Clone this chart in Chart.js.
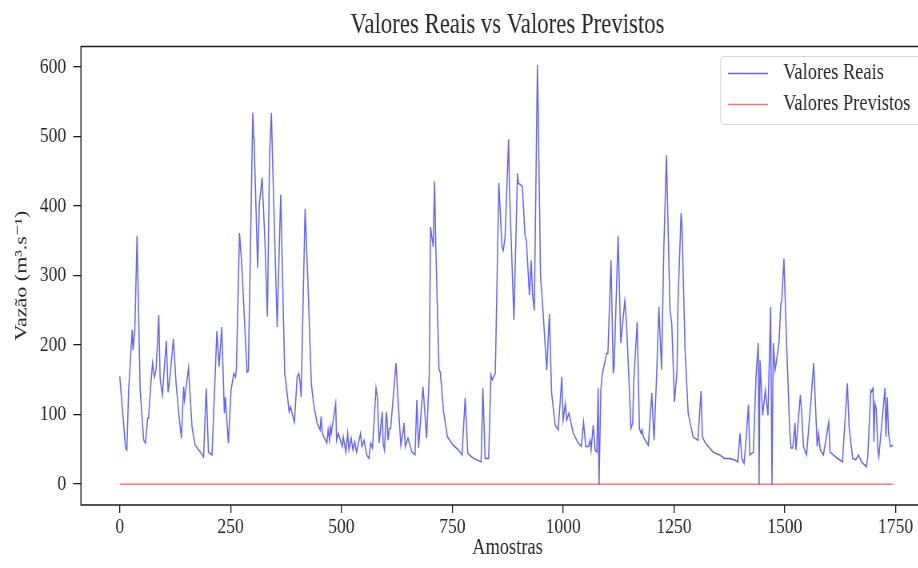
<!DOCTYPE html>
<html>
<head>
<meta charset="utf-8">
<script src="https://cdn.jsdelivr.net/npm/chart.js@4.4.1/dist/chart.umd.min.js"></script>
<style>
  html, body { margin: 0; padding: 0; background: #fff; overflow: hidden; }
  #wrap { width: 918px; height: 568px; overflow: hidden; position: relative; }
  /* a figura original foi achatada na horizontal: desenha largo e comprime */
  #grafico { position: absolute; left: 0; top: 0; transform: scaleX(0.8); transform-origin: 0 0; }
</style>
</head>
<body>
<div id="wrap">
  <canvas id="grafico" width="1175" height="568"></canvas>
</div>
<script>
// ===== DADOS =====
const amostras = [0,13,16,20,28,30,34,39,46,54,58,63,65,69,74,78,82,88,91,96,99,105,109,114,121,127,133,139,144,146,155,163,170,182,189,195,200,208,215,219,224,230,236,238,245,251,257,261,263,270,275,287,290,300,302,303,311,315,321,327,333,338,342,344,355,363,365,372,375,382,385,394,400,404,407,409,418,424,432,437,445,452,454,457,467,470,473,475,477,487,489,493,502,504,510,514,517,522,526,530,534,543,546,551,557,562,566,570,578,581,585,592,594,597,601,603,605,608,611,623,629,634,639,641,644,650,659,666,670,674,681,684,692,698,701,704,707,710,713,720,723,730,739,752,764,772,779,785,798,815,819,824,832,837,840,847,855,862,865,869,877,879,889,897,899,908,914,917,924,928,931,935,942,944,949,954,963,969,974,982,989,997,1000,1005,1008,1013,1023,1034,1041,1046,1051,1057,1061,1063,1068,1072,1076,1079,1081,1085,1088,1098,1101,1108,1113,1115,1124,1130,1139,1143,1153,1157,1159,1167,1170,1172,1176,1178,1181,1192,1200,1205,1211,1216,1222,1227,1233,1241,1245,1251,1257,1259,1266,1268,1275,1282,1293,1304,1311,1314,1321,1338,1353,1364,1375,1386,1394,1399,1403,1408,1412,1418,1421,1429,1435,1440,1442,1444,1450,1456,1462,1468,1471,1474,1478,1483,1487,1491,1493,1498,1503,1511,1514,1518,1523,1525,1535,1538,1542,1549,1559,1565,1569,1573,1576,1580,1587,1599,1602,1615,1630,1641,1645,1653,1660,1666,1673,1684,1687,1694,1696,1699,1701,1703,1706,1710,1712,1726,1728,1731,1734,1738,1744];
const vazaoReal = [155,52,49,135,222,193,222,357,135,63,59,95,95,135,174,154,165,243,152,128,154,206,132,159,209,145,102,66,140,121,167,82,56,46,39,138,46,42,154,220,169,226,102,125,59,135,159,154,165,361,318,161,163,534,498,496,311,404,441,356,241,476,534,480,226,416,361,159,145,104,111,89,154,159,145,125,396,298,145,116,88,78,97,73,59,78,63,82,73,116,63,73,54,68,46,73,49,66,49,61,46,73,54,63,42,37,59,52,138,125,59,104,59,49,104,92,63,80,80,174,106,56,75,88,54,66,46,42,121,52,116,140,66,157,370,355,341,435,336,164,161,106,68,56,49,42,124,44,37,32,138,37,37,157,150,159,433,341,336,355,496,423,236,447,433,428,358,351,272,322,272,250,603,528,298,255,164,245,131,85,78,154,92,116,92,102,73,59,54,89,54,54,63,49,85,49,46,138,0,135,157,188,188,322,159,169,357,203,263,231,80,88,145,233,145,80,73,78,68,56,131,63,159,255,164,337,473,250,231,118,164,260,390,373,193,102,68,63,134,68,59,46,42,37,37,35,32,73,37,30,59,114,42,46,154,203,0,178,99,135,99,255,0,203,164,185,205,260,262,324,221,78,52,52,88,49,128,104,54,42,121,174,116,54,73,49,42,89,46,39,32,145,82,37,35,42,32,25,39,135,133,138,61,116,109,49,39,138,68,125,73,54,56];
const amostrasPrev = [0, 1744];
const vazaoPrev = [0, 0];

const ticksX = [0, 250, 500, 750, 1000, 1250, 1500, 1750];
const ticksY = [0, 100, 200, 300, 400, 500, 600];

const FONTE = "'Liberation Serif', 'DejaVu Serif', serif";
const COR_REAL = 'rgba(0,0,255,0.62)';
const COR_PREV = 'rgba(255,0,0,0.55)';

// ===== PLUGINS =====
const moldura = {
  id: 'moldura',
  afterDraw(chart) {
    const { ctx, chartArea: a } = chart;
    ctx.save();
    // eixos: topo, esquerda e base (a direita fica fora da imagem)
    ctx.strokeStyle = '#1a1a1a';
    ctx.lineWidth = 1.4;
    ctx.beginPath();
    ctx.moveTo(chart.width, a.top + 0.5);
    ctx.lineTo(a.left, a.top + 0.5);
    ctx.lineTo(a.left, a.bottom);
    ctx.lineTo(chart.width, a.bottom);
    ctx.stroke();

    // legenda
    const x0 = 901, y0 = 56;
    ctx.fillStyle = 'rgba(255,255,255,0.85)';
    ctx.strokeStyle = '#d6d6d6';
    ctx.lineWidth = 1.2;
    ctx.beginPath();
    ctx.roundRect(x0, y0 + 0.5, 290, 68, 4);
    ctx.fill();
    ctx.stroke();

    const itens = [
      { txt: 'Valores Reais', cor: COR_REAL, y: 73 },
      { txt: 'Valores Previstos', cor: COR_PREV, y: 104 },
    ];
    ctx.font = '23px ' + FONTE;
    ctx.textBaseline = 'middle';
    itens.forEach(it => {
      ctx.strokeStyle = it.cor;
      ctx.lineWidth = 1.5;
      ctx.beginPath();
      ctx.moveTo(910, it.y + 0.5);
      ctx.lineTo(960, it.y + 0.5);
      ctx.stroke();
      ctx.fillStyle = '#262626';
      ctx.fillText(it.txt, 979, it.y);
    });
    ctx.restore();
  }
};

// ===== GRAFICO =====
const ctx = document.getElementById('grafico').getContext('2d');
new Chart(ctx, {
  type: 'line',
  data: {
    datasets: [
      {
        label: 'Valores Reais',
        data: amostras.map((x, i) => ({ x, y: vazaoReal[i] })),
        borderColor: COR_REAL,
        borderWidth: 1.5,
        pointRadius: 0,
        tension: 0,
        fill: false,
      },
      {
        label: 'Valores Previstos',
        data: amostrasPrev.map((x, i) => ({ x, y: vazaoPrev[i] })),
        borderColor: COR_PREV,
        borderWidth: 1.5,
        pointRadius: 0,
        fill: false,
      }
    ]
  },
  options: {
    responsive: false,
    animation: false,
    layout: { padding: { left: 0, right: 7.5, top: 0, bottom: 0 } },
    plugins: {
      legend: { display: false },
      tooltip: { enabled: false },
      title: {
        display: true,
        fullSize: false,
        text: 'Valores Reais vs Valores Previstos',
        color: '#262626',
        font: { family: FONTE, size: 28.5, weight: 'normal' },
        padding: { top: 8, bottom: 3.8 },
      }
    },
    scales: {
      x: {
        type: 'linear',
        min: -87.45,
        max: 1836.45,
        afterBuildTicks: s => { s.ticks = ticksX.map(v => ({ value: v })); },
        afterFit: s => { s.height = 63; },
        ticks: {
          color: '#262626',
          font: { family: FONTE, size: 22 },
          padding: 1,
          maxRotation: 0,
          callback: v => String(v),
        },
        grid: { drawOnChartArea: false, drawTicks: true, tickLength: 8, color: '#1a1a1a', lineWidth: 1.3 },
        border: { display: false },
        title: {
          display: true,
          text: 'Amostras',
          color: '#262626',
          font: { family: FONTE, size: 23 },
          padding: { top: 0, bottom: 6 },
        }
      },
      y: {
        type: 'linear',
        min: -30,
        max: 630,
        afterBuildTicks: s => { s.ticks = ticksY.map(v => ({ value: v })); },
        afterFit: s => { s.width = 101.25; },
        ticks: {
          color: '#262626',
          font: { family: FONTE, size: 22 },
          padding: 9,
          callback: v => String(v),
        },
        grid: { drawOnChartArea: false, drawTicks: true, tickLength: 9.6, color: '#1a1a1a', lineWidth: 1.3 },
        border: { display: false },
        title: {
          display: true,
          text: 'Vazão (m³.s⁻¹)',
          color: '#262626',
          font: { family: FONTE, size: 22 },
          padding: { top: 14.5, bottom: 0 },
        }
      }
    }
  },
  plugins: [moldura]
});
</script>
</body>
</html>
